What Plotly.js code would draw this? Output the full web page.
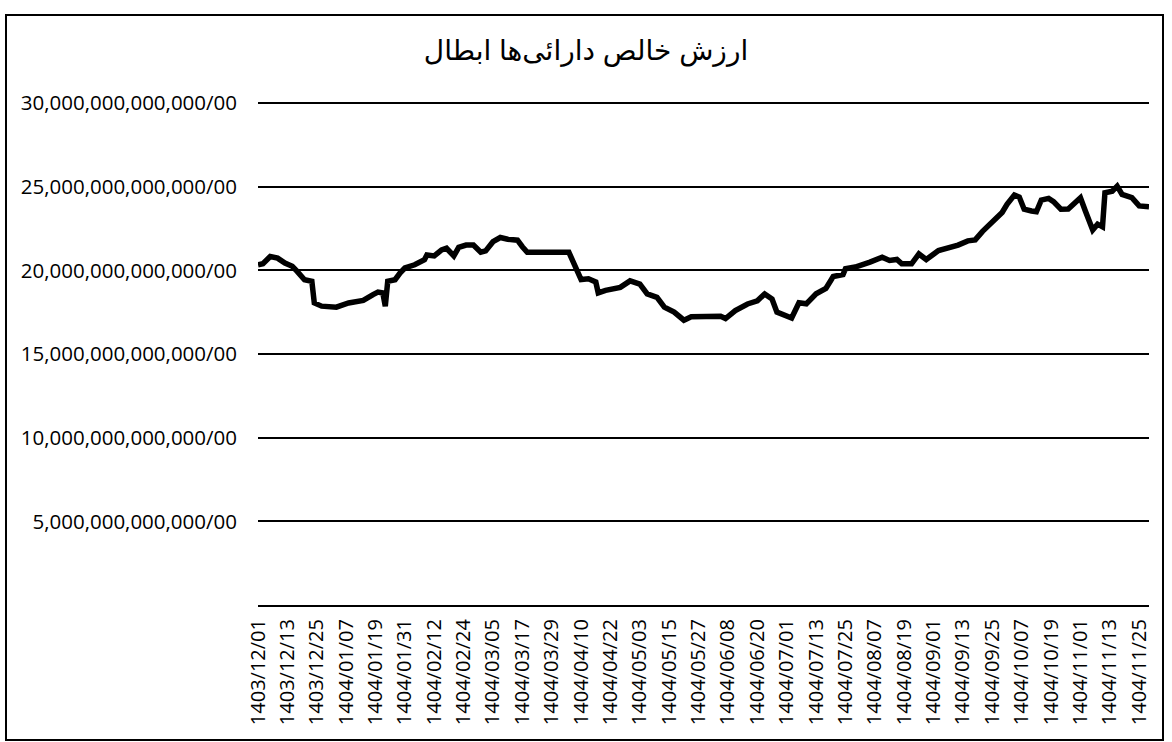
<!DOCTYPE html>
<html>
<head>
<meta charset="utf-8">
<script src="https://cdn.plot.ly/plotly-3.0.1.min.js"></script>
<style>html,body{margin:0;padding:0;background:#fff;}#chart{width:1172px;height:742px;}</style>
</head>
<body>
<div id="chart"></div>
<script>
// Readings (value in units of 1,000,000,000,000)
const dates = [
'1403/12/01','1403/12/03','1403/12/06','1403/12/09','1403/12/12','1403/12/15','1403/12/17','1403/12/20','1403/12/23','1403/12/24','1403/12/27',
'1404/01/03','1404/01/08','1404/01/14','1404/01/18','1404/01/20','1404/01/22','1404/01/23','1404/01/24','1404/01/27','1404/01/29','1404/01/31',
'1404/02/04','1404/02/08','1404/02/09','1404/02/12','1404/02/15','1404/02/17','1404/02/20','1404/02/22','1404/02/25','1404/02/28','1404/02/31',
'1404/03/02','1404/03/05','1404/03/08','1404/03/11','1404/03/15','1404/03/17','1404/03/19',
'1404/04/05','1404/04/07','1404/04/10','1404/04/13','1404/04/16','1404/04/17','1404/04/20','1404/04/26','1404/04/30',
'1404/05/03','1404/05/06','1404/05/10','1404/05/13','1404/05/17','1404/05/21','1404/05/24','1404/05/31',
'1404/06/05','1404/06/07','1404/06/11','1404/06/16','1404/06/20','1404/06/23','1404/06/26','1404/06/28',
'1404/07/01','1404/07/03','1404/07/06','1404/07/09','1404/07/13','1404/07/17','1404/07/20','1404/07/24','1404/07/25','1404/07/29',
'1404/08/05','1404/08/10','1404/08/13','1404/08/16','1404/08/18','1404/08/22','1404/08/25','1404/08/28',
'1404/09/03','1404/09/07','1404/09/11','1404/09/15','1404/09/18','1404/09/21','1404/09/24','1404/09/26','1404/09/29',
'1404/10/01','1404/10/04','1404/10/06','1404/10/08','1404/10/11','1404/10/13','1404/10/15','1404/10/18','1404/10/20','1404/10/23','1404/10/26','1404/10/29',
'1404/11/01','1404/11/03','1404/11/06','1404/11/08','1404/11/10','1404/11/11','1404/11/14','1404/11/16','1404/11/18','1404/11/22','1404/11/25','1404/11/29'
];
const navValues = [
20.33,20.40,20.83,20.73,20.43,20.24,19.94,19.44,19.35,18.05,17.86,
17.80,18.05,18.20,18.55,18.70,18.65,17.86,19.35,19.44,19.84,20.14,
20.33,20.63,20.92,20.86,21.22,21.32,20.86,21.37,21.51,21.51,21.08,
21.16,21.71,21.96,21.86,21.80,21.41,21.08,
21.08,20.43,19.45,19.50,19.30,18.65,18.80,18.98,19.37,
19.18,18.59,18.39,17.80,17.50,17.02,17.22,17.26,
17.26,17.12,17.60,17.99,18.18,18.59,18.29,17.50,
17.30,17.15,18.06,18.00,18.60,18.92,19.63,19.75,20.10,20.20,
20.49,20.78,20.59,20.65,20.39,20.39,20.98,20.65,
21.18,21.31,21.51,21.76,21.82,22.33,22.76,23.06,23.46,
23.95,24.50,24.38,23.65,23.55,23.50,24.20,24.30,24.11,23.65,23.67,24.14,
24.34,23.55,22.41,22.76,22.60,24.64,24.73,25.03,24.54,24.34,23.85,23.80
];
const xTickLabels = [
'1403/12/01','1403/12/13','1403/12/25','1404/01/07','1404/01/19','1404/01/31','1404/02/12','1404/02/24',
'1404/03/05','1404/03/17','1404/03/29','1404/04/10','1404/04/22','1404/05/03','1404/05/15','1404/05/27',
'1404/06/08','1404/06/20','1404/07/01','1404/07/13','1404/07/25','1404/08/07','1404/08/19','1404/09/01',
'1404/09/13','1404/09/25','1404/10/07','1404/10/19','1404/11/01','1404/11/13','1404/11/25'
];
const yTickVals = [5,10,15,20,25,30];
const yTickText = ['5,000,000,000,000/00','10,000,000,000,000/00','15,000,000,000,000/00','20,000,000,000,000/00','25,000,000,000,000/00','30,000,000,000,000/00'];
const chartTitle = 'ارزش خالص دارائی\u200cها ابطال';

// every calendar day of the category axis (Esfand 1403 has 30 days)
function pad(n){return (n<10?'0':'')+n;}
const allDays = [];
for (let d=1; d<=30; d++) allDays.push('1403/12/'+pad(d));
const monthLen1404 = [31,31,31,31,31,31,30,30,30,30,30];
monthLen1404.forEach((len,i)=>{
  for (let d=1; d<=len; d++) {
    const s = '1404/'+pad(i+1)+'/'+pad(d);
    allDays.push(s);
    if (s === dates[dates.length-1]) break;
  }
});
const lastIdx = allDays.indexOf(dates[dates.length-1]);

const font = 'Open Sans, Noto Sans, sans-serif';
const trace = {
  x: dates, y: navValues, type: 'scatter', mode: 'lines',
  line: {color: '#000', width: 5.5}, hoverinfo: 'x+y'
};
const layout = {
  width: 1172, height: 742,
  margin: {l: 258, r: 23, t: 101, b: 137},
  paper_bgcolor: '#fff', plot_bgcolor: '#fff',
  showlegend: false,
  title: {text: chartTitle, font: {family: 'Arial, Liberation Sans, DejaVu Sans, sans-serif', size: 28, color: '#000'},
          x: 0.5, xref: 'container', xanchor: 'center', y: 1-50/742, yref: 'container', yanchor: 'middle'},
  xaxis: {
    type: 'category', categoryorder: 'array', categoryarray: allDays,
    range: [0, lastIdx],
    tickmode: 'array', tickvals: xTickLabels, ticktext: xTickLabels,
    tickangle: -90, tickfont: {family: font, size: 20, color: '#000'},
    showgrid: false, showline: true, linecolor: '#000', linewidth: 2,
    ticks: '', ticklabelstandoff: 4, zeroline: false
  },
  yaxis: {
    range: [0, 30.12], tickmode: 'array', tickvals: yTickVals, ticktext: yTickText,
    tickfont: {family: font, size: 20.5, color: '#000'},
    showgrid: true, gridcolor: '#000', gridwidth: 2,
    zeroline: false, showline: false, ticks: '', ticklabelstandoff: 20
  },
  shapes: [{
    type: 'rect', xref: 'paper', yref: 'paper',
    x0: (6-258)/891, x1: (1163-258)/891, y0: (605-740)/504, y1: (605-15)/504,
    line: {color: '#000', width: 2}, fillcolor: 'rgba(0,0,0,0)'
  }]
};
Plotly.newPlot('chart', [trace], layout, {staticPlot: true, displayModeBar: false});
</script>
</body>
</html>
